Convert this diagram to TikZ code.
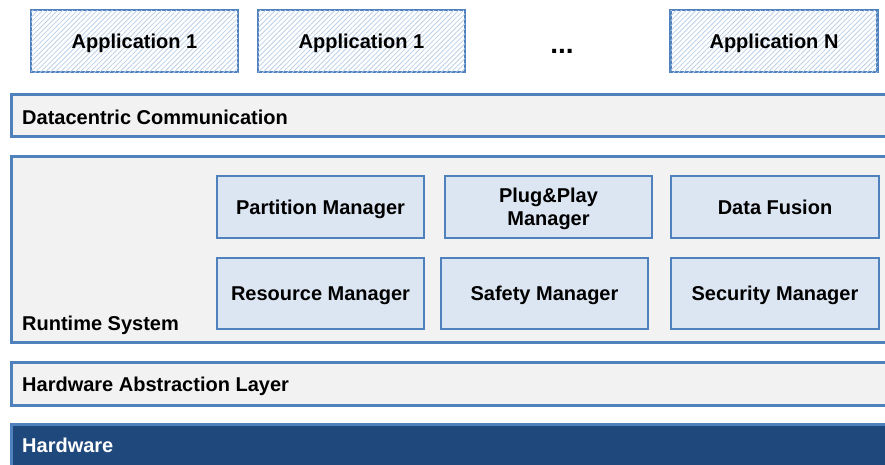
\documentclass[tikz,border=0pt]{standalone}
\usepackage{fontspec}
\setmainfont{Liberation Sans}
\usetikzlibrary{patterns.meta}
\definecolor{bordblue}{HTML}{4F81BD}
\definecolor{layerfill}{HTML}{F2F2F2}
\definecolor{boxfill}{HTML}{DCE6F2}
\definecolor{hatch}{HTML}{BCD0E8}
\definecolor{hwfill}{HTML}{1F497D}
\begin{document}
\begin{tikzpicture}[x=1pt,y=-1pt,
  every node/.style={font=\fontsize{20}{23.4}\selectfont\bfseries},
  appbox/.style={draw=bordblue, line width=2.5pt, fill=white,
    postaction={pattern={Lines[angle=45,distance=3.5pt,line width=0.8pt]}, pattern color=hatch},
    minimum width=207pt, minimum height=62pt, inner sep=0pt, text height=18pt, text depth=4pt},
  layer/.style={draw=bordblue, line width=2.5pt, fill=layerfill, inner sep=0pt, anchor=north west},
  mgr/.style={draw=bordblue, line width=2.5pt, fill=boxfill, inner sep=0pt,
    minimum width=207pt, align=center},
  one/.style={text height=18pt, text depth=4pt},
  lbl/.style={anchor=west, inner sep=0pt}
]
\useasboundingbox (0,0) rectangle (885,464);
\clip (0,0) rectangle (885,464);
% applications
\node[appbox] (a1) at (134.5,41) {Application 1};
\node[appbox] (a2) at (361.5,41) {Application 1};
\node[font=\fontsize{28}{30}\selectfont\bfseries] (dots) at (562,51) {...};
\node[appbox] (an) at (774,41) {Application N};
% datacentric
\node[layer, minimum width=900pt, minimum height=42pt] (dc) at (10,93) {};
\node[lbl] (dcl) at (22,117) {Datacentric Communication};
% runtime
\node[layer, minimum width=900pt, minimum height=186pt] (rt) at (10,155) {};
\node[lbl] (rtl) at (22,325) {Runtime System};
\node[mgr, one, minimum height=62pt] (pm) at (320.5,207) {Partition Manager};
\node[mgr, minimum height=62pt, text height=41.4pt, text depth=4pt] (pp) at (548.5,207) {Plug\&Play\\Manager};
\node[mgr, one, minimum height=62pt, minimum width=208pt] (df) at (775,207) {Data Fusion};
\node[mgr, one, minimum height=71pt] (rm) at (320.5,293.5) {Resource Manager};
\node[mgr, one, minimum height=71pt] (sm) at (544.5,293.5) {Safety Manager};
\node[mgr, one, minimum height=71pt, minimum width=208pt] (sec) at (775,293.5) {Security Manager};
% HAL
\node[layer, minimum width=900pt, minimum height=43pt] (hal) at (10,361) {};
\node[lbl] (hall) at (22,386) {Hardware Abstraction Layer};
% Hardware
\node[layer, fill=hwfill, minimum width=900pt, minimum height=60pt] (hw) at (10,423) {};
\node[lbl, text=white] (hwl) at (22,445) {Hardware};
\end{tikzpicture}
\end{document}
